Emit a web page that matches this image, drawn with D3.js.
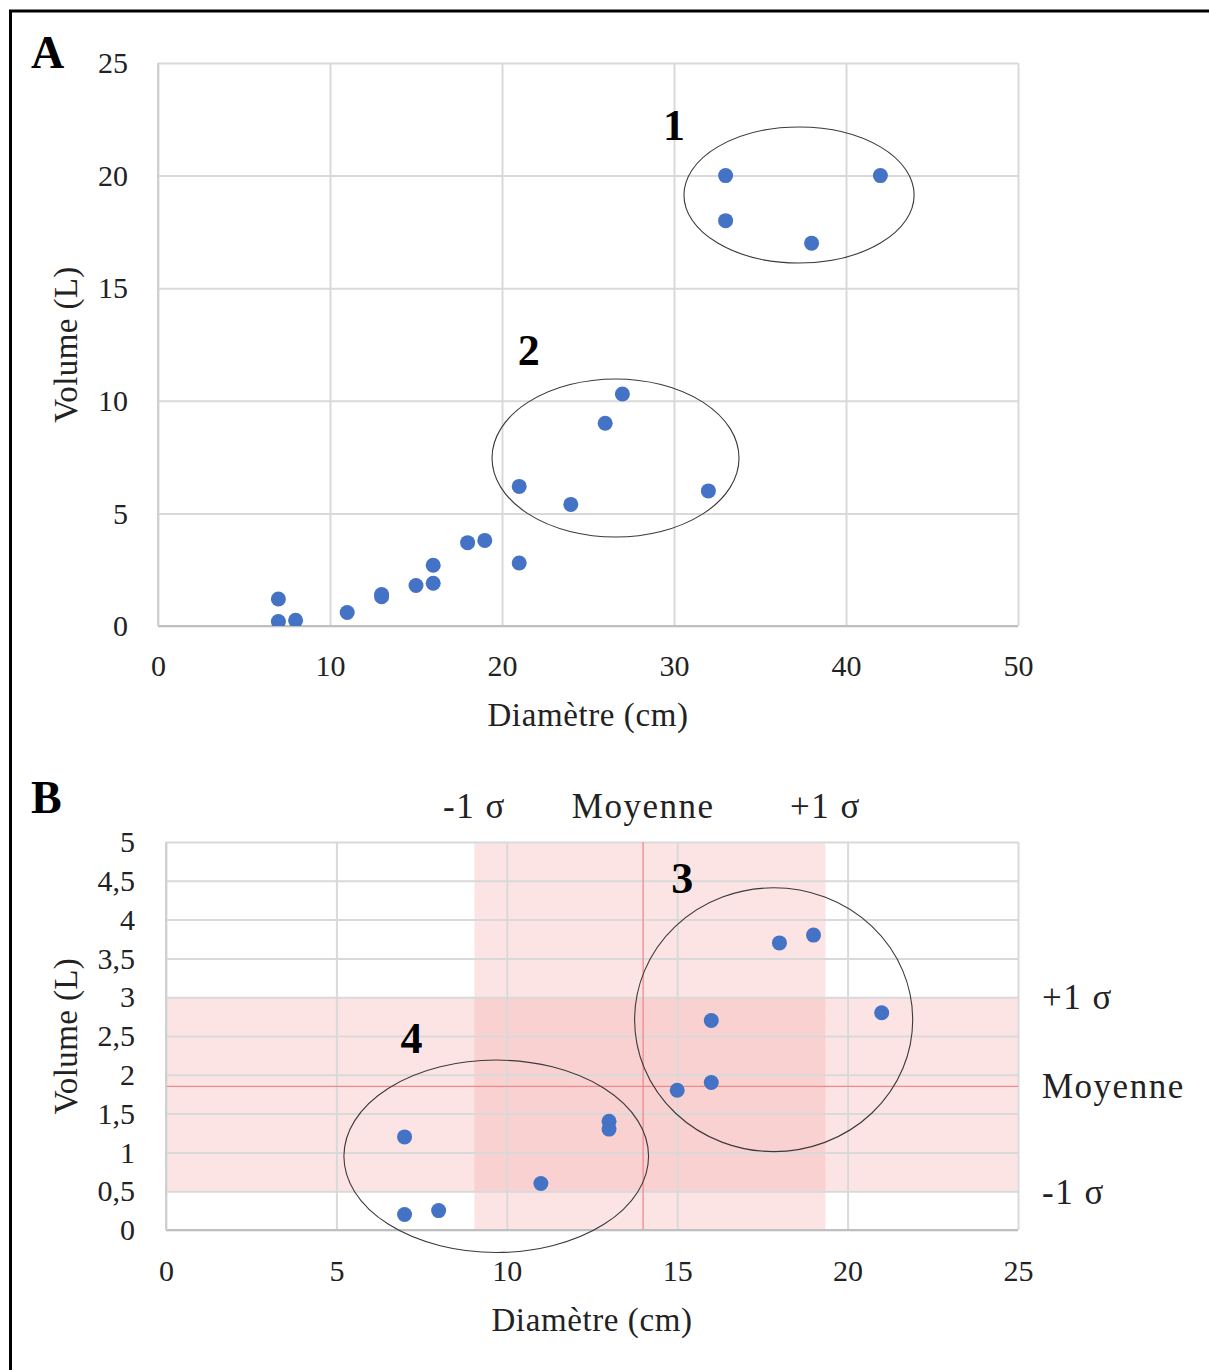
<!DOCTYPE html>
<html><head><meta charset="utf-8">
<script src="https://cdn.jsdelivr.net/npm/d3@7"></script>
<style>body{margin:0;background:#fff}svg{display:block}</style>
</head><body>
<script>
// ---- Data ----
const diameters = [7, 7, 8, 11, 13, 13, 15, 16, 16, 18, 19, 21, 21, 24, 26, 27, 32, 33, 33, 38, 42];
const volumes   = [1.2, 0.2, 0.25, 0.6, 1.4, 1.3, 1.8, 2.7, 1.9, 3.7, 3.8, 2.8, 6.2, 5.4, 9.0, 10.3, 6.0, 20, 18, 17, 20];
const xTicksA = [0, 10, 20, 30, 40, 50];
const yTicksA = [0, 5, 10, 15, 20, 25];
const xTicksB = [0, 5, 10, 15, 20, 25];
const yTicksB = [0, 0.5, 1, 1.5, 2, 2.5, 3, 3.5, 4, 4.5, 5];
const xStats = [9.05, 14.0, 19.35];   // -1σ, moyenne, +1σ  (diamètre)
const yStats = [0.49, 1.85, 3.0];     // -1σ, moyenne, +1σ  (volume)
const statLabels = ["-1 σ", "Moyenne", "+1 σ"];
// group ellipses [cx, cy, rx, ry] in data units, with labels
const ellipsesA = [[37.27, 19.14, 6.69, 3.02], [26.6, 7.46, 7.18, 3.51]];
const ellipseLabelsA = [["1", 30.0, 21.6], ["2", 21.55, 11.6]];
const ellipsesB = [[17.83, 2.71, 4.08, 1.70], [9.69, 0.95, 4.47, 1.24]];
const ellipseLabelsB = [["3", 15.15, 4.34], ["4", 7.2, 2.28]];

const W = 1209, H = 1370;
const FONT = "'Liberation Serif', 'DejaVu Serif', serif";
const svg = d3.select("body").append("svg").attr("width", W).attr("height", H)
  .style("font-family", FONT);

// frame
svg.append("rect").attr("x", 10.5).attr("y", 11).attr("width", 1220).attr("height", 1400)
  .attr("fill", "none").attr("stroke", "#000").attr("stroke-width", 3);

const pts = diameters.map((d, i) => ({x: d, y: volumes[i]}));
const fmt = d => String(d).replace(".", ",");

function panel(opt) {
  const x = d3.scaleLinear().domain(opt.xd).range([opt.left, opt.right]);
  const y = d3.scaleLinear().domain(opt.yd).range([opt.bottom, opt.top]);
  const g = svg.append("g");
  const clipId = "clip" + opt.name;
  svg.append("clipPath").attr("id", clipId).append("rect")
    .attr("x", opt.left).attr("y", opt.top)
    .attr("width", opt.right - opt.left).attr("height", opt.bottom - opt.top);

  if (opt.bands) opt.bands(g, x, y);

  // grid
  g.append("g").attr("transform", `translate(0,${opt.bottom})`)
    .call(d3.axisBottom(x).tickValues(opt.xt).tickSize(-(opt.bottom - opt.top)).tickFormat(""))
    .call(s => s.select(".domain").remove())
    .call(s => s.selectAll("line").attr("stroke", "#d9d9d9").attr("stroke-width", 2));
  g.append("g").attr("transform", `translate(${opt.left},0)`)
    .call(d3.axisLeft(y).tickValues(opt.yt).tickSize(-(opt.right - opt.left)).tickFormat(""))
    .call(s => s.select(".domain").remove())
    .call(s => s.selectAll("line").attr("stroke", "#d9d9d9").attr("stroke-width", 2));
  if (opt.lines) opt.lines(g, x, y);
  // axis lines
  g.append("line").attr("x1", opt.left).attr("x2", opt.right).attr("y1", opt.bottom).attr("y2", opt.bottom)
    .attr("stroke", "#bfbfbf").attr("stroke-width", 2);
  g.append("line").attr("x1", opt.left).attr("x2", opt.left).attr("y1", opt.top).attr("y2", opt.bottom)
    .attr("stroke", "#d0d0d0").attr("stroke-width", 2);

  // tick labels
  g.append("g").attr("transform", `translate(0,${opt.bottom + opt.xlabOff})`)
    .call(d3.axisBottom(x).tickValues(opt.xt).tickSize(0).tickPadding(0).tickFormat(fmt))
    .call(s => s.select(".domain").remove())
    .call(s => s.selectAll("text").attr("font-family", FONT).attr("font-size", opt.fs).attr("fill", "#222"));
  g.append("g").attr("transform", `translate(${opt.left - opt.ylabOff},0)`)
    .call(d3.axisLeft(y).tickValues(opt.yt).tickSize(0).tickPadding(0).tickFormat(fmt))
    .call(s => s.select(".domain").remove())
    .call(s => s.selectAll("text").attr("font-family", FONT).attr("font-size", opt.fs).attr("fill", "#222"));

  // axis titles
  g.append("text").attr("x", (opt.left + opt.right) / 2).attr("y", opt.xTitleY)
    .attr("text-anchor", "middle").attr("font-size", 33).attr("letter-spacing", 0.6)
    .attr("fill", "#222").text("Diamètre (cm)");
  g.append("text").attr("transform", `translate(${opt.yTitleX},${(opt.top + opt.bottom) / 2}) rotate(-90)`)
    .attr("text-anchor", "middle").attr("font-size", 33).attr("letter-spacing", 0.4)
    .attr("fill", "#222").text("Volume (L)");

  // points
  g.append("g").attr("clip-path", `url(#${clipId})`).selectAll("circle")
    .data(pts.filter(p => p.x <= opt.xd[1] && p.y <= opt.yd[1] + 0.01))
    .join("circle").attr("cx", d => x(d.x)).attr("cy", d => y(d.y)).attr("r", 7.5)
    .attr("fill", "#4472c4");

  // ellipses
  g.selectAll("ellipse.grp").data(opt.ell).join("ellipse")
    .attr("cx", d => x(d[0])).attr("cy", d => y(d[1]))
    .attr("rx", d => x(d[0] + d[2]) - x(d[0])).attr("ry", d => y(d[1]) - y(d[1] + d[3]))
    .attr("fill", "none").attr("stroke", "#3a3a3a").attr("stroke-width", 1.1);
  g.selectAll("text.grp").data(opt.ellLab).join("text")
    .attr("x", d => x(d[1])).attr("y", d => y(d[2]))
    .attr("text-anchor", "middle").attr("font-size", 44).attr("font-weight", "bold").attr("fill", "#000")
    .text(d => d[0]);

  // panel letter
  svg.append("text").attr("x", 31).attr("y", opt.letterY).attr("font-size", 46).attr("font-weight", "bold")
    .attr("fill", "#000").text(opt.name);
  return {x, y};
}

panel({name: "A", xd: [0, 50], yd: [0, 25], left: 158, right: 1018, top: 63, bottom: 626,
  xt: xTicksA, yt: yTicksA, fs: 30, xlabOff: 29, ylabOff: 30, xTitleY: 726, yTitleX: 77,
  ell: ellipsesA, ellLab: ellipseLabelsA, letterY: 68});

panel({name: "B", xd: [0, 25], yd: [0, 5], left: 166, right: 1018, top: 842, bottom: 1230,
  xt: xTicksB, yt: yTicksB, fs: 30, xlabOff: 30, ylabOff: 31, xTitleY: 1331, yTitleX: 77,
  ell: ellipsesB, ellLab: ellipseLabelsB, letterY: 813,
  bands: (g, x, y) => {
    g.append("rect").attr("x", x.range()[0]).attr("width", x.range()[1] - x.range()[0])
      .attr("y", y(yStats[2])).attr("height", y(yStats[0]) - y(yStats[2]))
      .attr("fill", "#f4a6a6").attr("fill-opacity", 0.3);
    g.append("rect").attr("x", x(xStats[0])).attr("width", x(xStats[2]) - x(xStats[0]))
      .attr("y", y.range()[1]).attr("height", y.range()[0] - y.range()[1])
      .attr("fill", "#f4a6a6").attr("fill-opacity", 0.3);
  },
  lines: (g, x, y) => {
    g.append("line").attr("x1", x(xStats[1])).attr("x2", x(xStats[1]))
      .attr("y1", y.range()[1]).attr("y2", y.range()[0]).attr("stroke", "#f08a8a").attr("stroke-width", 1.3);
    g.append("line").attr("x1", x.range()[0]).attr("x2", x.range()[1])
      .attr("y1", y(yStats[1])).attr("y2", y(yStats[1])).attr("stroke", "#f08a8a").attr("stroke-width", 1.3);
    // top labels
    g.selectAll("text.top").data(xStats).join("text").attr("class", "top")
      .attr("x", d => x(d)).attr("y", 818).attr("text-anchor", "middle")
      .attr("font-size", 35).attr("letter-spacing", 1.5).attr("fill", "#222").text((d, i) => statLabels[i]);
    // right labels
    g.selectAll("text.right").data(yStats).join("text").attr("class", "right")
      .attr("x", 1042).attr("y", d => y(d) + 12)
      .attr("font-size", 35).attr("letter-spacing", 1.5).attr("fill", "#222").text((d, i) => statLabels[i]);
  }});
</script>
</body></html>
